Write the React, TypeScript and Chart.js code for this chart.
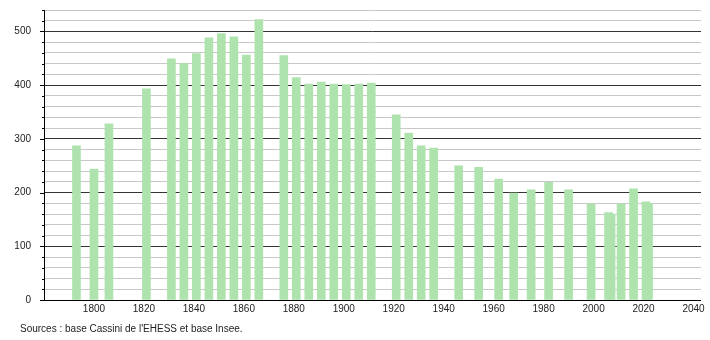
import React, { useEffect, useRef } from "react";
import { Chart, registerables } from "chart.js";

Chart.register(...registerables);

const years = [
  1793, 1800, 1806, 1821, 1831, 1836, 1841, 1846, 1851, 1856, 1861, 1866,
  1876, 1881, 1886, 1891, 1896, 1901, 1906, 1911, 1921, 1926, 1931, 1936,
  1946, 1954, 1962, 1968, 1975, 1982, 1990, 1999, 2006, 2007, 2011, 2016,
  2021, 2022,
];
const population = [
  287, 244, 328, 393, 449, 440, 459, 488, 496, 490, 456, 522,
  455, 414, 402, 406, 402, 401, 402, 404, 345, 311, 287, 283,
  250, 247, 225, 199, 205, 219, 205, 179, 163, 160, 179, 207,
  183, 180,
];
const xTickLabels = [1800, 1820, 1840, 1860, 1880, 1900, 1920, 1940, 1960, 1980, 2000, 2020, 2040];
const sourceText = "Sources : base Cassini de l'EHESS et base Insee.";

const FONT = "'Liberation Sans', Arial, sans-serif";

const tickMarks = {
  id: "tickMarks",
  afterDraw(chart: any) {
    const { ctx, chartArea, scales } = chart;
    const y = scales.y;
    ctx.save();
    ctx.strokeStyle = "#000";
    ctx.lineWidth = 1;
    for (let v = 0; v <= 540; v += 20) {
      const py = Math.round(y.getPixelForValue(v)) + 0.5;
      const len = v % 100 === 0 ? 4 : 2;
      ctx.beginPath();
      ctx.moveTo(chartArea.left - len, py);
      ctx.lineTo(chartArea.left, py);
      ctx.stroke();
    }
    ctx.beginPath();
    ctx.moveTo(Math.round(chartArea.left) + 0.5, chartArea.top);
    ctx.lineTo(Math.round(chartArea.left) + 0.5, chartArea.bottom);
    ctx.stroke();
    ctx.beginPath();
    ctx.moveTo(chartArea.left - 4, Math.round(chartArea.bottom) + 0.5);
    ctx.lineTo(chartArea.right, Math.round(chartArea.bottom) + 0.5);
    ctx.stroke();
    ctx.restore();
  },
};

export default function App() {
  const ref = useRef<HTMLCanvasElement | null>(null);
  useEffect(() => {
    document.body.style.margin = "0";
    if (!ref.current) return;
    const chart = new Chart(ref.current, {
      type: "bar",
      data: {
        datasets: [
          {
            data: years.map((y, i) => ({ x: y, y: population[i] })),
            backgroundColor: "rgb(174,227,174)",
            borderWidth: 0,
            barThickness: 8,
          },
        ],
      },
      options: {
        animation: false,
        responsive: false,
        maintainAspectRatio: false,
        layout: { padding: { left: 0, right: 9, top: 10, bottom: 0 } },
        plugins: { legend: { display: false }, tooltip: { enabled: false } },
        scales: {
          x: {
            type: "linear",
            min: 1780,
            max: 2043,
            offset: false,
            grid: { display: false, drawTicks: false },
            border: { display: false },
            afterBuildTicks: (s: any) => {
              s.ticks = xTickLabels.map((v) => ({ value: v }));
            },
            afterFit: (s: any) => {
              s.height = 40;
              s.paddingLeft = 0;
              s.paddingRight = 0;
            },
            ticks: {
              padding: 3,
              maxRotation: 0,
              autoSkip: false,
              color: "#222",
              font: { family: FONT, size: 10 },
              callback: (v: any) => String(v),
            },
          },
          y: {
            min: 0,
            max: 540,
            afterBuildTicks: (s: any) => {
              const t = [];
              for (let v = 0; v <= 540; v += 20) t.push({ value: v });
              s.ticks = t;
            },
            afterFit: (s: any) => {
              s.width = 44;
              s.paddingTop = 0;
              s.paddingBottom = 0;
            },
            grid: {
              drawTicks: true,
              tickLength: 4,
              tickColor: "rgba(0,0,0,0)",
              color: (c: any) =>
                c.tick && c.tick.value % 100 === 0 ? "#333" : "#c8c8c8",
              lineWidth: 1,
            },
            border: { display: false },
            ticks: {
              padding: 9,
              autoSkip: false,
              color: "#222",
              font: { family: FONT, size: 10 },
              callback: (v: any) => (Number(v) % 100 === 0 ? String(v) : ""),
            },
          },
        },
      },
      plugins: [tickMarks],
    });
    return () => chart.destroy();
  }, []);
  return (
    <div style={{ position: "relative", width: 710, height: 340, background: "#fff" }}>
      <canvas ref={ref} width={710} height={340} style={{ display: "block" }} />
      <div
        style={{
          position: "absolute",
          left: 20,
          top: 322,
          fontFamily: FONT,
          fontSize: 10,
          color: "#222",
          whiteSpace: "nowrap",
          lineHeight: "14px",
        }}
      >
        {sourceText}
      </div>
    </div>
  );
}
